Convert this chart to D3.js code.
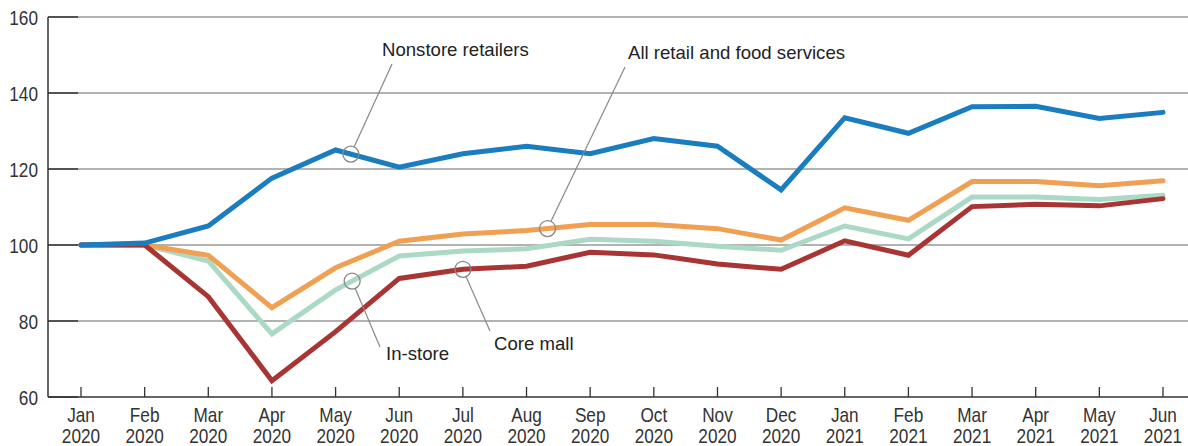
<!DOCTYPE html>
<html>
<head>
<meta charset="utf-8">
<script src="https://cdn.jsdelivr.net/npm/d3@7"></script>
<style>
  html, body { margin: 0; padding: 0; background: #fff; }
  svg { display: block; }
  .axis text { font-family: "Liberation Sans", Arial, sans-serif; font-size: 21px; fill: #333; }
  .note { font-family: "Liberation Sans", Arial, sans-serif; font-size: 18.6px; fill: #222; }
</style>
</head>
<body>
<div id="chart"></div>
<script>
// Retail sales indexed to Jan 2020 = 100, by channel.

const months = ['Jan','Feb','Mar','Apr','May','Jun','Jul','Aug','Sep','Oct','Nov','Dec',
                'Jan','Feb','Mar','Apr','May','Jun'];
const years  = ['2020','2020','2020','2020','2020','2020','2020','2020','2020','2020','2020','2020',
                '2021','2021','2021','2021','2021','2021'];
const yTicks = [60, 80, 100, 120, 140, 160];

const nonstore  = [100, 100.5, 105, 117.6, 125, 120.5, 124, 126, 124, 128, 126, 114.5, 133.5, 129.4, 136.4, 136.5, 133.3, 134.9];
const allRetail = [100, 100, 97.3, 83.5, 94, 101, 102.9, 103.8, 105.4, 105.4, 104.3, 101.3, 109.8, 106.5, 116.7, 116.7, 115.6, 116.9];
const inStore   = [100, 100, 95.8, 76.6, 88.2, 97.1, 98.4, 99, 101.5, 101, 99.7, 98.6, 105, 101.6, 112.6, 112.6, 112.0, 113.1];
const coreMall  = [100, 100, 86.4, 64.3, 77.2, 91.2, 93.6, 94.4, 98.1, 97.4, 95, 93.6, 101.1, 97.3, 110.1, 110.7, 110.3, 112.2];

const series = [
  { name: 'In-store',                      values: inStore,   color: '#abd9c5' },
  { name: 'All retail and food services',  values: allRetail, color: '#f0a052' },
  { name: 'Core mall',                     values: coreMall,  color: '#a83434' },
  { name: 'Nonstore retailers',            values: nonstore,  color: '#1a7dbf' }
];

// callouts: which series, which month (fractional), where the label sits
const notes = [
  { series: 'Nonstore retailers',           at: 4.24, lx: 382, ly: 56,  ex: 392, ey: 64 },
  { series: 'All retail and food services', at: 7.33, lx: 628, ly: 59,  ex: 625, ey: 67 },
  { series: 'In-store',                     at: 4.26, lx: 386, ly: 360, ex: 380, ey: 347 },
  { series: 'Core mall',                    at: 6.0,  lx: 494, ly: 350, ex: 490, ey: 331 }
];

const W = 1188, H = 446;
const m = { left: 48, right: 0, top: 17, bottom: 49 };
const NARROW = 0.82; // condensed look for axis labels

const svg = d3.select('#chart').append('svg').attr('width', W).attr('height', H);

const x = d3.scaleLinear().domain([0, months.length - 1]).range([81, 1163]);
const y = d3.scaleLinear().domain([60, 160]).range([H - m.bottom, m.top]);

// gridlines
svg.append('g').selectAll('line').data(yTicks.filter(d => d > 60)).enter().append('line')
  .attr('x1', m.left).attr('x2', W).attr('y1', d => y(d)).attr('y2', d => y(d))
  .attr('stroke', '#999').attr('stroke-width', 1.5);
svg.append('g').selectAll('line').data(yTicks).enter().append('line')
  .attr('x1', m.left).attr('x2', m.left + 30).attr('y1', d => y(d)).attr('y2', d => y(d))
  .attr('stroke', '#333').attr('stroke-width', 1.5);

// y axis
const yAxis = svg.append('g').attr('class', 'axis');
yAxis.append('line').attr('x1', m.left).attr('x2', m.left).attr('y1', y(160)).attr('y2', y(60))
  .attr('stroke', '#333').attr('stroke-width', 1.5);
yAxis.selectAll('text').data(yTicks).enter().append('text')
  .attr('transform', d => `translate(38,${y(d) + 7.5}) scale(${NARROW},1)`)
  .attr('text-anchor', 'end').text(d => d);

// x axis
const xAxis = svg.append('g').attr('class', 'axis');
xAxis.append('line').attr('x1', m.left).attr('x2', W).attr('y1', y(60)).attr('y2', y(60))
  .attr('stroke', '#333').attr('stroke-width', 1.5);
const xt = xAxis.selectAll('g.tick').data(months).enter().append('g').attr('class', 'tick')
  .attr('transform', (d, i) => `translate(${x(i)},0)`);
xt.append('line').attr('y1', y(60) - 10).attr('y2', y(60)).attr('stroke', '#333').attr('stroke-width', 1.3);
xt.append('text').attr('transform', `translate(0,422) scale(${NARROW},1)`)
  .attr('text-anchor', 'middle').text(d => d);
xt.append('text').attr('transform', `translate(0,443) scale(${NARROW},1)`)
  .attr('text-anchor', 'middle').text((d, i) => years[i]);

// lines
const line = d3.line().x((d, i) => x(i)).y(d => y(d));
svg.append('g').selectAll('path').data(series).enter().append('path')
  .attr('d', d => line(d.values))
  .attr('fill', 'none').attr('stroke', d => d.color).attr('stroke-width', 5)
  .attr('stroke-linejoin', 'miter').attr('stroke-linecap', 'round');

// callouts
const valueAt = (vals, t) => {
  const i = Math.floor(t), f = t - i;
  return vals[i] + (vals[Math.min(i + 1, vals.length - 1)] - vals[i]) * f;
};
const r = 8;
notes.forEach(n => {
  const s = series.find(d => d.name === n.series);
  const cx = x(n.at), cy = y(valueAt(s.values, n.at));
  const ang = Math.atan2(n.ey - cy, n.ex - cx);
  svg.append('circle').attr('cx', cx).attr('cy', cy).attr('r', r)
    .attr('fill', 'none').attr('stroke', '#888').attr('stroke-width', 1.3);
  svg.append('line')
    .attr('x1', cx + r * Math.cos(ang)).attr('y1', cy + r * Math.sin(ang))
    .attr('x2', n.ex).attr('y2', n.ey)
    .attr('stroke', '#888').attr('stroke-width', 1.2);
  svg.append('text').attr('class', 'note').attr('x', n.lx).attr('y', n.ly).text(n.series);
});
</script>
</body>
</html>
